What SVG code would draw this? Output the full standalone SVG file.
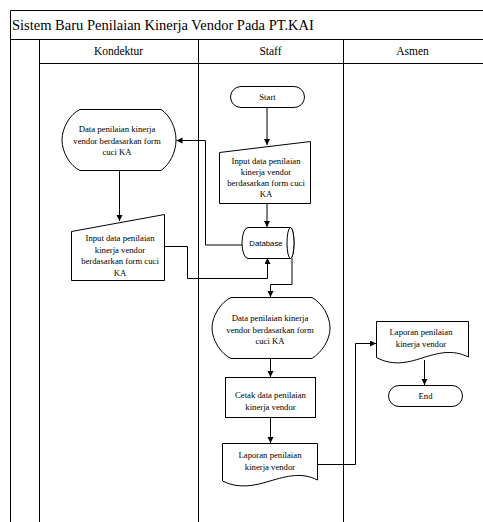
<svg xmlns="http://www.w3.org/2000/svg" width="483" height="522" viewBox="0 0 483 522">
<style>
.frame{fill:none;stroke:#000;stroke-width:1}
.shape{fill:#fff;stroke:#000;stroke-width:1}
.conn{fill:none;stroke:#000;stroke-width:1}
.t{font-family:"Liberation Serif","Times New Roman",serif;font-size:8.7px;fill:#000;text-anchor:middle}
.h{font-family:"Liberation Serif","Times New Roman",serif;font-size:11.5px;fill:#000;text-anchor:middle}
.title{font-family:"Liberation Serif","Times New Roman",serif;font-size:14.5px;fill:#000}
.db{font-family:"Liberation Sans",Arial,sans-serif;font-size:7.8px;fill:#000;text-anchor:middle}
</style>
<defs>
<marker id="arr" markerUnits="userSpaceOnUse" markerWidth="8" markerHeight="8" refX="6" refY="3" orient="auto">
<path d="M0,0 L6,3 L0,6 Z" fill="#000"/>
</marker>
</defs>
<rect width="483" height="522" fill="#fff"/>
<g id="pool">
<path class="frame" d="M10.5,522 V10.5 H483 M10.5,39.5 H483 M39.5,63.5 H483 M39.5,39.5 V522 M198.5,39.5 V522 M343.5,39.5 V522"/>
<text class="title" x="12" y="30">Sistem Baru Penilaian Kinerja Vendor Pada PT.KAI</text>
<text class="h" x="118.5" y="55">Kondektur</text>
<text class="h" x="270.5" y="55">Staff</text>
<text class="h" x="412.5" y="55">Asmen</text>
</g>
<g id="connectors">
<path class="conn" marker-end="url(#arr)" d="M267,107 V145"/>
<path class="conn" marker-end="url(#arr)" d="M267,203 V227"/>
<path class="conn" marker-end="url(#arr)" d="M242,245 H205.5 V140.5 H176.5"/>
<path class="conn" marker-end="url(#arr)" d="M119.5,170 V221"/>
<path class="conn" marker-end="url(#arr)" d="M164,246.5 H187.5 V278.5 H267.5 V258"/>
<path class="conn" marker-end="url(#arr)" d="M292,258 V284.5 H270.5 V297"/>
<path class="conn" marker-end="url(#arr)" d="M270.5,358 V377"/>
<path class="conn" marker-end="url(#arr)" d="M270.5,417 V443"/>
<path class="conn" marker-end="url(#arr)" d="M317,464.5 H355.5 V343.5 H376"/>
<path class="conn" marker-end="url(#arr)" d="M424.5,360 V385"/>
</g>
<g id="start">
<rect class="shape" x="230.5" y="86.5" width="74" height="21" rx="10.5"/>
<text class="t" x="267.5" y="100">Start</text>
</g>
<g id="staff-input">
<path class="shape" d="M219.5,152.5 L310.5,141.5 V203.5 H219.5 Z"/>
<text class="t" x="266" y="163.5">Input data penilaian</text>
<text class="t" x="266" y="174.8">kinerja vendor</text>
<text class="t" x="266" y="186.1">berdasarkan form cuci</text>
<text class="t" x="266" y="197.4">KA</text>
</g>
<g id="database">
<path class="shape" d="M248,227.5 H290.5 A3.5,15.5 0 0 1 290.5,258.5 H248 A6,15.5 0 0 1 248,227.5 Z"/>
<ellipse class="shape" cx="290.5" cy="243" rx="3.5" ry="15.5"/>
<text class="db" x="266" y="245.5">Database</text>
</g>
<g id="kondektur-display">
<path class="shape" d="M80,109.5 H161 C170,115 176,128 176,140 C176,152 170,164 161,170.5 H80 C70,166 62,152 62,140 C62,128 70,114 80,109.5 Z"/>
<text class="t" x="117" y="132">Data penilaian kinerja</text>
<text class="t" x="117" y="143.5">vendor berdasarkan form</text>
<text class="t" x="117" y="155">cuci KA</text>
</g>
<g id="kondektur-input">
<path class="shape" d="M71.5,231.5 L164.5,214.5 V280.5 H71.5 Z"/>
<text class="t" x="120" y="241">Input data penilaian</text>
<text class="t" x="120" y="252.5">kinerja vendor</text>
<text class="t" x="120" y="264">berdasarkan form cuci</text>
<text class="t" x="120" y="275.5">KA</text>
</g>
<g id="staff-display">
<path class="shape" d="M231,297.5 H312 C322,303 330,316 330,328 C330,340 322,352 312,358.5 H231 C221,354 212,340 212,328 C212,316 221,302 231,297.5 Z"/>
<text class="t" x="270" y="321">Data penilaian kinerja</text>
<text class="t" x="270" y="332.7">vendor berdasarkan form</text>
<text class="t" x="270" y="344.4">cuci KA</text>
</g>
<g id="cetak">
<rect class="shape" x="225.5" y="377.5" width="90" height="40"/>
<text class="t" x="270.5" y="398">Cetak data penilaian</text>
<text class="t" x="270.5" y="409.5">kinerja vendor</text>
</g>
<g id="staff-doc">
<path class="shape" d="M222.5,443.5 H317.5 V480 C302,472 287,476 270,481 C254,486 238,489 222.5,481 Z"/>
<text class="t" x="270" y="458">Laporan penilaian</text>
<text class="t" x="270" y="469.5">kinerja vendor</text>
</g>
<g id="asmen-doc">
<path class="shape" d="M376.5,321.5 H468.5 V357 C452,349 438,353 422,358 C407,363 392,366 376.5,357.5 Z"/>
<text class="t" x="421" y="334.5">Laporan penilaian</text>
<text class="t" x="421" y="346.5">kinerja vendor</text>
</g>
<g id="end">
<rect class="shape" x="388.5" y="385.5" width="74" height="21" rx="10.5"/>
<text class="t" x="425.5" y="399">End</text>
</g>
</svg>
